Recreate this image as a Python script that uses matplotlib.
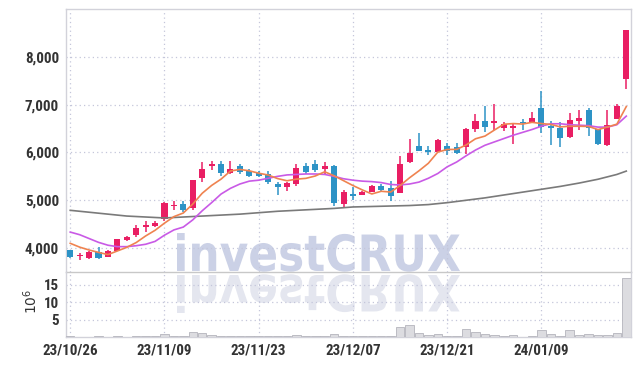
import matplotlib
matplotlib.use('Agg')
import matplotlib.pyplot as plt
from matplotlib import font_manager
from matplotlib.font_manager import FontProperties
from matplotlib.textpath import TextPath
from matplotlib.patches import PathPatch
from matplotlib.transforms import Affine2D

# tick labels (every 10th trading day)
tick_labels = ['23/10/26', '23/11/09', '23/11/23', '23/12/07', '23/12/21', '24/01/09']

# daily OHLC, KRW
opens = [3960, 3830, 3790, 3920, 3820, 3940, 4170, 4270, 4440, 4470,
         4600, 4890, 4920, 4840, 5470, 5720, 5760, 5570, 5720, 5610,
         5580, 5550, 5340, 5280, 5340, 5710, 5760, 5650, 5720, 4920,
         5140, 5110, 5180, 5300, 5260, 5160, 5790, 6130, 6050, 6010,
         6130, 6110, 6120, 6490, 6660, 6610, 6510, 6520, 6640, 6640,
         6930, 6560, 6510, 6320, 6660, 6890, 6490, 6160, 6700, 7540]
highs = [3970, 3890, 3930, 4020, 3950, 4200, 4250, 4490, 4570, 4560,
         4970, 4990, 4990, 5430, 5800, 5830, 5820, 5820, 5750, 5650,
         5620, 5620, 5380, 5380, 5750, 5780, 5850, 5790, 5740, 5210,
         5270, 5200, 5320, 5330, 5400, 5930, 6280, 6410, 6140, 6280,
         6200, 6200, 6510, 6810, 6970, 7010, 6640, 6620, 6690, 6840,
         7290, 6660, 6640, 6830, 6880, 6920, 6500, 6880, 7010, 8560]
lows = [3790, 3760, 3780, 3780, 3810, 3930, 4150, 4230, 4340, 4440,
        4560, 4790, 4760, 4800, 5380, 5630, 5500, 5540, 5540, 5480,
        5480, 5350, 5110, 5200, 5300, 5550, 5590, 5550, 4890, 4860,
        5000, 5100, 5170, 5200, 4990, 5150, 5770, 6030, 5950, 6000,
        5950, 5960, 5970, 6430, 6430, 6460, 6450, 6180, 6460, 6620,
        6410, 6160, 6120, 6300, 6460, 6350, 6150, 6140, 6690, 7330]
closes = [3810, 3850, 3920, 3800, 3940, 4190, 4230, 4420, 4490, 4530,
          4940, 4910, 4800, 5425, 5655, 5760, 5570, 5650, 5590, 5510,
          5510, 5380, 5280, 5360, 5680, 5590, 5630, 5720, 4940, 5170,
          5080, 5170, 5300, 5220, 5090, 5760, 5980, 6030, 6010, 6260,
          6030, 5990, 6490, 6660, 6540, 6660, 6600, 6560, 6610, 6720,
          6530, 6510, 6300, 6680, 6720, 6510, 6180, 6570, 6980, 8560]

# volume, millions of shares
volumes = [0.2, 0.1, 0.1, 0.2, 0.1, 0.3, 0.1, 0.4, 0.2, 0.3,
           1.0, 0.3, 0.3, 1.3, 1.1, 0.6, 0.4, 0.3, 0.2, 0.2,
           0.2, 0.2, 0.3, 0.2, 0.5, 0.3, 0.2, 0.3, 0.9, 0.4,
           0.2, 0.2, 0.3, 0.2, 0.3, 2.9, 3.4, 1.2, 0.5, 1.0,
           0.4, 0.4, 2.2, 1.4, 1.0, 0.7, 0.4, 0.7, 0.1, 0.4,
           1.9, 0.8, 0.4, 1.9, 0.5, 0.8, 0.5, 0.5, 1.2, 17.0]

# moving averages
ma5 = [4100, 4020, 3960, 3910, 3864, 3940, 4016, 4116, 4254, 4372,
       4522, 4658, 4734, 4921, 5146, 5310, 5442, 5612, 5645, 5616,
       5566, 5528, 5454, 5408, 5442, 5458, 5508, 5596, 5512, 5410,
       5308, 5216, 5132, 5188, 5172, 5308, 5470, 5616, 5774, 6008,
       6062, 6064, 6156, 6286, 6342, 6468, 6590, 6604, 6594, 6630,
       6604, 6586, 6534, 6548, 6548, 6544, 6478, 6532, 6592, 6960]
ma20 = [4335, 4280, 4200, 4120, 4060, 4030, 4030, 4050, 4080, 4140,
        4270, 4380, 4440, 4590, 4780, 4950, 5130, 5250, 5340, 5400,
        5420, 5460, 5500, 5530, 5540, 5550, 5550, 5540, 5500, 5450,
        5420, 5400, 5390, 5370, 5330, 5320, 5340, 5380, 5460, 5560,
        5700, 5800, 5930, 6050, 6150, 6220, 6290, 6360, 6420, 6480,
        6550, 6600, 6600, 6580, 6570, 6560, 6530, 6530, 6580, 6760]
ma_long = [4790, 4770, 4750, 4730, 4710, 4690, 4670, 4660, 4650, 4640,
           4630, 4640, 4650, 4660, 4670, 4680, 4690, 4700, 4710, 4725,
           4740, 4755, 4770, 4780, 4790, 4800, 4810, 4820, 4830, 4845,
           4860, 4865, 4870, 4875, 4880, 4885, 4890, 4900, 4910, 4930,
           4950, 4975, 5000, 5025, 5050, 5080, 5110, 5140, 5170, 5200,
           5230, 5260, 5290, 5325, 5360, 5400, 5440, 5490, 5540, 5610]

UP = '#e91e63'
DOWN = '#2d93c6'

names = {f.name for f in font_manager.fontManager.ttflist}
if 'Roboto Condensed' in names:
    tick_fp = FontProperties(family='Roboto Condensed', weight='bold', size=10.8)
elif 'Liberation Sans Narrow' in names:
    tick_fp = FontProperties(family='Liberation Sans Narrow', weight='bold', size=10.8)
else:
    tick_fp = FontProperties(family='DejaVu Sans', stretch='condensed', weight='bold', size=9.5)

fig = plt.figure(figsize=(6.39, 3.66), dpi=100)
fig.patch.set_facecolor('white')
ax = fig.add_axes([66 / 639, 1 - 272 / 366, 565 / 639, 263 / 366])
axv = fig.add_axes([66 / 639, 1 - 337 / 366, 565 / 639, 65 / 366], sharex=ax)

x = list(range(len(closes)))
colors = [UP if c >= o else DOWN for o, c in zip(opens, closes)]
bottoms = [min(o, c) for o, c in zip(opens, closes)]
heights = [max(abs(c - o), 15) for o, c in zip(opens, closes)]

ax.vlines(x, lows, highs, colors=colors, linewidth=1.1, zorder=3)
ax.bar(x, heights, bottom=bottoms, width=0.64, color=colors, zorder=3)
ax.plot(x, ma_long, color='#7a7a7a', lw=1.2, zorder=4)
ax.plot(x, ma20, color='#c95ae6', lw=1.2, zorder=4)
ax.plot(x, ma5, color='#ef8350', lw=1.2, zorder=4)

axv.bar(x, volumes, width=0.9, color='#dcdce0', edgecolor='#b4b4bc', linewidth=0.6, zorder=3)

grid_kw = dict(color='#c4c6da', linestyle=(0, (1, 2.5)), linewidth=0.9)
for a in (ax, axv):
    a.set_facecolor('none')
    a.grid(True, **grid_kw)
    a.set_axisbelow(True)
    a.tick_params(length=0, colors='#333333', pad=5)
    for s in a.spines.values():
        s.set_color('#d2d2da')
        s.set_linewidth(1.0)

ax.set_xlim(-0.45, 59.5)
ax.set_ylim(3500, 9000)
ax.set_yticks([4000, 5000, 6000, 7000, 8000])
ax.set_yticklabels(['4,000', '5,000', '6,000', '7,000', '8,000'], fontproperties=tick_fp)
ax.tick_params(labelbottom=False)
ax.spines['bottom'].set_color('#c8c8c8')

axv.set_ylim(0, 18.6)
axv.set_yticks([5, 10, 15])
axv.set_yticklabels(['5', '10', '15'], fontproperties=tick_fp)
axv.set_xticks([0, 10, 20, 30, 40, 50])
axv.set_xticklabels(tick_labels, fontproperties=tick_fp)
axv.spines['top'].set_visible(False)
axv.set_ylabel(r'$10^6$', fontsize=10, color='#333333')
axv.yaxis.set_label_coords(-0.046, 0.55)

# watermark with mirrored reflection
wm = TextPath((0, 0), 'investCRUX', size=1, prop=FontProperties(family='DejaVu Sans', weight='bold'))
ext = wm.get_extents()
sx = (460 - 177) / ext.width / 100
sy = 38 / ext.y1 / 100
front = Affine2D().translate(-ext.x0, 0).scale(sx, sy).translate(1.77, 0.95) + fig.dpi_scale_trans
mirror = Affine2D().translate(-ext.x0, 0).scale(sx, -sy).translate(1.77, 0.91) + fig.dpi_scale_trans
fig.add_artist(PathPatch(wm, transform=mirror, facecolor='#e4e6ef', lw=0, zorder=-2))
fig.add_artist(PathPatch(wm, transform=front, facecolor='#cbd1e6', lw=0, zorder=-1))

fig.savefig('out.png', dpi=100)
